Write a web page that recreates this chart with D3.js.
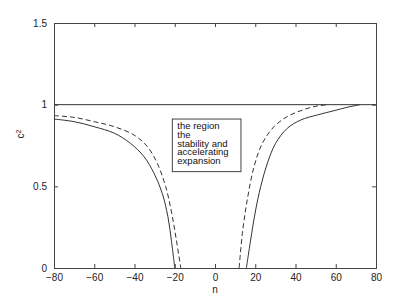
<!DOCTYPE html>
<meta charset="utf-8">
<script src="https://d3js.org/d3.v7.min.js"></script>
<style>
  body { margin: 0; background: #fff; }
  text { font-family: "Liberation Sans", Arial, sans-serif; }
</style>
<div id="my_dataviz"></div>
<script>

// values
var nSolidLeft  = [-80, -70, -60, -50, -42, -35.3, -30.3, -26.2, -23.4, -21.7, -20];
var cSolidLeft  = [0.912, 0.896, 0.865, 0.825, 0.763, 0.682, 0.58, 0.457, 0.314, 0.171, 0];
var nDashLeft   = [-80, -70, -60, -50, -40.2, -33.6, -28.7, -24.5, -21.5, -19.2, -17];
var cDashLeft   = [0.933, 0.922, 0.896, 0.865, 0.814, 0.743, 0.641, 0.498, 0.335, 0.171, 0];
var nSolidRight = [15.6, 17.7, 20.2, 22.7, 26, 30.1, 35.9, 42.6, 50.8, 59.1, 65.7, 72];
var cSolidRight = [0, 0.171, 0.355, 0.498, 0.641, 0.763, 0.855, 0.906, 0.937, 0.963, 0.984, 1];
var nDashRight  = [12, 13.6, 16, 19.4, 23.5, 29.3, 35.9, 42.6, 49.2, 56];
var cDashRight  = [0, 0.212, 0.416, 0.62, 0.763, 0.865, 0.927, 0.963, 0.988, 1];
var nUnity = [-80, 80];
var cUnity = [1, 1];

var xTicks = [-80, -60, -40, -20, 0, 20, 40, 60, 80];
var yTicks = [0, 0.5, 1, 1.5];
var boxLines = ["the region", "the", "stability and", "accelerating", "expansion"];

// set the dimensions and margins of the graph
var margin = {top: 23, right: 39, bottom: 35, left: 54},
    width = 415 - margin.left - margin.right,
    height = 303 - margin.top - margin.bottom;

var svg = d3.select("#my_dataviz")
  .append("svg")
    .attr("width", width + margin.left + margin.right)
    .attr("height", height + margin.top + margin.bottom)
  .append("g")
    .attr("transform", "translate(" + margin.left + "," + margin.top + ")");

var x = d3.scaleLinear().domain([-80, 80]).range([0, width]);
var y = d3.scaleLinear().domain([0, 1.5]).range([height, 0]);

var axisColor = "#444";
var fmt = function(d) { return d < 0 ? "\u2212" + Math.abs(d) : String(d); };

// axes on all four sides, ticks pointing inward
var xb = svg.append("g")
    .attr("transform", "translate(0," + height + ")")
    .call(d3.axisBottom(x).tickValues(xTicks).tickSize(-4).tickPadding(7).tickFormat(fmt));
var xt = svg.append("g")
    .call(d3.axisTop(x).tickValues(xTicks).tickSize(-4).tickFormat(""));
var yl = svg.append("g")
    .call(d3.axisLeft(y).tickValues(yTicks).tickSize(-4).tickPadding(7).tickFormat(d3.format("")));
var yr = svg.append("g")
    .attr("transform", "translate(" + width + ",0)")
    .call(d3.axisRight(y).tickValues(yTicks).tickSize(-4).tickFormat(""));

[xb, xt, yl, yr].forEach(function(g) {
  g.select(".domain").attr("stroke", axisColor);
  g.selectAll(".tick line").attr("stroke", axisColor);
  g.selectAll(".tick text")
    .attr("fill", "#222")
    .style("font-size", "10px")
    .style("font-family", "'Liberation Sans', Arial, sans-serif");
});
xb.selectAll(".tick text").attr("dy", "0.55em");

// lines
var line = d3.line()
    .x(function(d) { return x(d[0]); })
    .y(function(d) { return y(d[1]); })
    .curve(d3.curveCatmullRom.alpha(0.5));

function pairs(a, b) { return a.map(function(v, i) { return [v, b[i]]; }); }

var series = [
  {n: nUnity, c: cUnity, dash: null},
  {n: nSolidLeft, c: cSolidLeft, dash: null},
  {n: nDashLeft, c: cDashLeft, dash: "5,3"},
  {n: nSolidRight, c: cSolidRight, dash: null},
  {n: nDashRight, c: cDashRight, dash: "5,3"}
];

svg.selectAll(".curve")
  .data(series)
  .enter()
  .append("path")
    .attr("class", "curve")
    .attr("d", function(s) { return line(pairs(s.n, s.c)); })
    .attr("fill", "none")
    .attr("stroke", "#333")
    .attr("stroke-width", 1)
    .attr("stroke-dasharray", function(s) { return s.dash; });

// annotation box
var bx0 = x(-21.2), bx1 = x(12.9), by0 = y(0.912), by1 = y(0.59);
svg.append("rect")
    .attr("x", bx0)
    .attr("y", by0)
    .attr("width", bx1 - bx0)
    .attr("height", by1 - by0)
    .attr("fill", "white")
    .attr("stroke", axisColor)
    .attr("stroke-width", 1);

svg.selectAll(".boxtext")
  .data(boxLines)
  .enter()
  .append("text")
    .attr("class", "boxtext")
    .attr("x", bx0 + 5)
    .attr("y", function(d, i) { return by0 + 10 + i * 8.8; })
    .style("font-size", "9.5px")
    .attr("fill", "#111")
    .text(function(d) { return d; });

// axis labels
svg.append("text")
    .attr("text-anchor", "middle")
    .attr("x", width / 2)
    .attr("y", height + 25)
    .style("font-size", "10px")
    .attr("fill", "#222")
    .text("n");

var ylab = svg.append("text")
    .attr("text-anchor", "middle")
    .attr("transform", "translate(" + (-30) + "," + (y(0.82)) + ") rotate(-90)")
    .style("font-size", "10px")
    .attr("fill", "#222");
ylab.append("tspan").text("c");
ylab.append("tspan").attr("dy", "-0.5em").style("font-size", "7px").text("2");

</script>
